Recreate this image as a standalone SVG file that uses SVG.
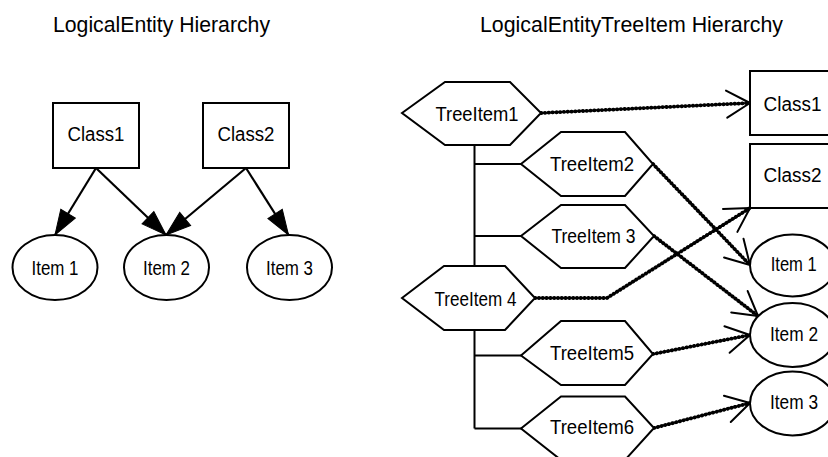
<svg xmlns="http://www.w3.org/2000/svg" width="828" height="457" viewBox="0 0 828 457">
  <style>
    .title { font-family: "Liberation Sans", Arial, sans-serif; font-size: 22px; fill: #000; }
    .label { font-family: "Liberation Sans", Arial, sans-serif; font-size: 20px; fill: #000; text-anchor: middle; }
    .shape { fill: #fff; stroke: #000; stroke-width: 2; }
    .branch { fill: none; stroke: #000; stroke-width: 2; }
    .edge { fill: none; stroke: #000; stroke-width: 2.2; marker-end: url(#solidHead); }
    .link { fill: none; stroke: #000; stroke-width: 3.8; stroke-linecap: round; stroke-linejoin: round; stroke-dasharray: 0.4 3.4; marker-end: url(#openHead); }
    .link-core { fill: none; stroke: #000; stroke-width: 1.4; }
  </style>
  <defs>
    <marker id="solidHead" markerUnits="userSpaceOnUse" markerWidth="30" markerHeight="24" viewBox="-27 -12 30 24" refX="0" refY="0" orient="auto">
      <path d="M-25,-8.5 L0,0 L-25,8.5 Z" fill="#000" stroke="#000" stroke-width="1"/>
    </marker>
    <marker id="openHead" markerUnits="userSpaceOnUse" markerWidth="34" markerHeight="34" viewBox="-28 -17 32 34" refX="0" refY="0" orient="auto">
      <path d="M-23.4,-13.5 L0,0 L-23.4,13.5" fill="none" stroke="#000" stroke-width="2" stroke-linecap="round" stroke-linejoin="round"/>
    </marker>
  </defs>
  <rect width="828" height="457" fill="#fff"/>

  <text class="title" x="53" y="31.7" textLength="217" lengthAdjust="spacingAndGlyphs">LogicalEntity Hierarchy</text>
  <text class="title" x="480" y="31.7" textLength="303" lengthAdjust="spacingAndGlyphs">LogicalEntityTreeItem Hierarchy</text>

  <!-- left: class-to-item edges -->
  <g id="edges-left">
    <line class="edge" x1="96" y1="168" x2="55" y2="235"/>
    <line class="edge" x1="96" y1="168" x2="166" y2="235"/>
    <line class="edge" x1="246" y1="168" x2="166" y2="235"/>
    <line class="edge" x1="246" y1="168" x2="288.5" y2="235"/>
  </g>

  <g id="class1-left">
    <rect class="shape" x="53" y="103" width="86" height="65"/>
    <text class="label" x="96" y="140.5" textLength="57" lengthAdjust="spacingAndGlyphs">Class1</text>
  </g>
  <g id="class2-left">
    <rect class="shape" x="203" y="103" width="86" height="65"/>
    <text class="label" x="246" y="140.5" textLength="57" lengthAdjust="spacingAndGlyphs">Class2</text>
  </g>
  <g id="item1-left">
    <ellipse class="shape" cx="55" cy="267.5" rx="42.5" ry="32.5"/>
    <text class="label" x="55" y="274.5" textLength="47" lengthAdjust="spacingAndGlyphs">Item 1</text>
  </g>
  <g id="item2-left">
    <ellipse class="shape" cx="166.5" cy="267.5" rx="42.5" ry="32.5"/>
    <text class="label" x="166.5" y="274.5" textLength="47" lengthAdjust="spacingAndGlyphs">Item 2</text>
  </g>
  <g id="item3-left">
    <ellipse class="shape" cx="289.5" cy="267.5" rx="42.5" ry="32.5"/>
    <text class="label" x="289.5" y="274.5" textLength="47" lengthAdjust="spacingAndGlyphs">Item 3</text>
  </g>

  <!-- right: tree structure lines -->
  <g id="tree-branches">
    <path class="branch" d="M474.5,145 V266 M474.5,330 V428.5 M474.5,164 H521 M474.5,236 H521 M474.5,355.5 H521 M474.5,428.5 H521"/>
  </g>

  <!-- right: tree item to entity links -->
  <g id="links-right">
    <g>
      <path class="link-core" d="M541,113 L744,103.3"/>
      <path class="link" d="M541,113 L750,103"/>
    </g>
    <g>
      <path class="link-core" d="M653,164 L745.8,260.7"/>
      <path class="link" d="M653,164 L750,265"/>
    </g>
    <g>
      <path class="link-core" d="M654,236 L753.3,312.1"/>
      <path class="link" d="M654,236 L758,316"/>
    </g>
    <g>
      <path class="link-core" d="M535,298 H607 L745,211"/>
      <path class="link" d="M535,298 H607 L750,208"/>
    </g>
    <g>
      <path class="link-core" d="M653,354 L744.1,336.2"/>
      <path class="link" d="M653,354 L750,335"/>
    </g>
    <g>
      <path class="link-core" d="M654,428 L744.2,404.5"/>
      <path class="link" d="M654,428 L750,403"/>
    </g>
  </g>

  <g id="treeitem1">
    <polygon class="shape" points="402,113 445,82 510,82 541,113 510,145 445,145"/>
    <text class="label" x="477" y="120.5" textLength="83" lengthAdjust="spacingAndGlyphs">TreeItem1</text>
  </g>
  <g id="treeitem2">
    <polygon class="shape" points="521,164 561,132 625,132 653,164 625,196 561,196"/>
    <text class="label" x="592" y="171" textLength="84" lengthAdjust="spacingAndGlyphs">TreeItem2</text>
  </g>
  <g id="treeitem3">
    <polygon class="shape" points="521,236 561,205 625,205 654,236 625,268 561,268"/>
    <text class="label" x="593.5" y="243" textLength="84" lengthAdjust="spacingAndGlyphs">TreeItem 3</text>
  </g>
  <g id="treeitem4">
    <polygon class="shape" points="402,298 444,266 505,266 535,298 505,330 444,330"/>
    <text class="label" x="475.5" y="305.5" textLength="82" lengthAdjust="spacingAndGlyphs">TreeItem 4</text>
  </g>
  <g id="treeitem5">
    <polygon class="shape" points="521,355.5 561,321 625,321 653,354 625,385 561,385"/>
    <text class="label" x="592" y="360" textLength="84" lengthAdjust="spacingAndGlyphs">TreeItem5</text>
  </g>
  <g id="treeitem6">
    <polygon class="shape" points="521,428.5 561,396.5 625,396.5 654,428 625,460 561,460"/>
    <text class="label" x="592" y="434" textLength="84" lengthAdjust="spacingAndGlyphs">TreeItem6</text>
  </g>

  <g id="class1-right">
    <rect class="shape" x="750" y="71" width="86" height="64"/>
    <text class="label" x="792.5" y="110.5" textLength="58" lengthAdjust="spacingAndGlyphs">Class1</text>
  </g>
  <g id="class2-right">
    <rect class="shape" x="750" y="144" width="86" height="64"/>
    <text class="label" x="792.5" y="182" textLength="58" lengthAdjust="spacingAndGlyphs">Class2</text>
  </g>
  <g id="item1-right">
    <ellipse class="shape" cx="792.5" cy="265.5" rx="42.5" ry="31"/>
    <text class="label" x="793.7" y="270.5" textLength="46" lengthAdjust="spacingAndGlyphs">Item 1</text>
  </g>
  <g id="item2-right">
    <ellipse class="shape" cx="792.5" cy="335" rx="42.5" ry="32"/>
    <text class="label" x="794" y="340.5" textLength="48" lengthAdjust="spacingAndGlyphs">Item 2</text>
  </g>
  <g id="item3-right">
    <ellipse class="shape" cx="792.5" cy="403.5" rx="42.5" ry="32"/>
    <text class="label" x="794" y="409" textLength="48" lengthAdjust="spacingAndGlyphs">Item 3</text>
  </g>
</svg>
